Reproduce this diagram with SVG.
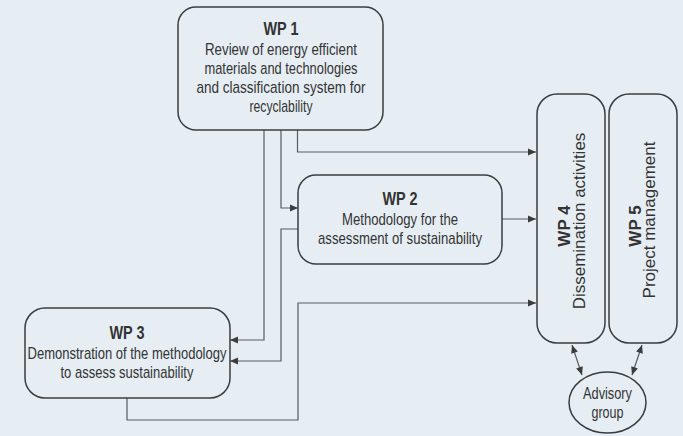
<svg xmlns="http://www.w3.org/2000/svg" width="683" height="436" viewBox="0 0 683 436">
<style>
.box{fill:#e6eef3;stroke:#3c3c3c;stroke-width:1.5}
.con{fill:none;stroke:#5a5a5a;stroke-width:1.2}
.t{font-family:"Liberation Sans",Arial,sans-serif;font-size:17px;fill:#333;text-anchor:middle}
.b{font-family:"Liberation Sans",Arial,sans-serif;font-size:18px;font-weight:bold;fill:#333;text-anchor:middle}
.rt{font-family:"Liberation Sans",Arial,sans-serif;font-size:17px;fill:#333;text-anchor:middle}
.rb{font-family:"Liberation Sans",Arial,sans-serif;font-size:17px;font-weight:bold;fill:#333;text-anchor:middle}
</style>
<defs>
<marker id="ah" markerUnits="userSpaceOnUse" markerWidth="10" markerHeight="10" viewBox="0 0 10 10" refX="9" refY="5" orient="auto">
<path d="M1,1.5 L9,5 L1,8.5 Z" fill="#3c3c3c"/>
</marker>
<marker id="ahs" markerUnits="userSpaceOnUse" markerWidth="10" markerHeight="10" viewBox="0 0 10 10" refX="1" refY="5" orient="auto">
<path d="M9,1.5 L1,5 L9,8.5 Z" fill="#3c3c3c"/>
</marker>
</defs>
<rect width="683" height="436" fill="#e6eef3"/>
<g id="connectors">
<path class="con" d="M297.5,130 V152 H536" marker-end="url(#ah)"/>
<path class="con" d="M281,130 V208 H298" marker-end="url(#ah)"/>
<path class="con" d="M264,130 V340 H230" marker-end="url(#ah)"/>
<path class="con" d="M298,229 H281 V361 H230" marker-end="url(#ah)"/>
<path class="con" d="M502,219 H536" marker-end="url(#ah)"/>
<path class="con" d="M127,398 V420 H298 V303 H536" marker-end="url(#ah)"/>
<path class="con" d="M572,345 L582,375" marker-start="url(#ahs)" marker-end="url(#ah)"/>
<path class="con" d="M642,345 L632,375" marker-start="url(#ahs)" marker-end="url(#ah)"/>
</g>
<g id="wp1">
<rect class="box" x="178" y="7" width="205" height="123" rx="18"/>
<text class="b" x="281" y="35" textLength="35" lengthAdjust="spacingAndGlyphs">WP 1</text>
<text class="t" x="281" y="55" textLength="152" lengthAdjust="spacingAndGlyphs">Review of energy efficient</text>
<text class="t" x="281" y="74" textLength="153" lengthAdjust="spacingAndGlyphs">materials and technologies</text>
<text class="t" x="281" y="93" textLength="169" lengthAdjust="spacingAndGlyphs">and classification system for</text>
<text class="t" x="281" y="112" textLength="63" lengthAdjust="spacingAndGlyphs">recyclability</text>
</g>
<g id="wp2">
<rect class="box" x="298" y="175" width="204" height="89" rx="18"/>
<text class="b" x="400" y="205" textLength="35" lengthAdjust="spacingAndGlyphs">WP 2</text>
<text class="t" x="400" y="225" textLength="116" lengthAdjust="spacingAndGlyphs">Methodology for the</text>
<text class="t" x="400" y="244" textLength="164" lengthAdjust="spacingAndGlyphs">assessment of sustainability</text>
</g>
<g id="wp3">
<rect class="box" x="25" y="308" width="205" height="90" rx="20"/>
<text class="b" x="127" y="339" textLength="35" lengthAdjust="spacingAndGlyphs">WP 3</text>
<text class="t" x="127" y="359" textLength="199" lengthAdjust="spacingAndGlyphs">Demonstration of the methodology</text>
<text class="t" x="127" y="378" textLength="133" lengthAdjust="spacingAndGlyphs">to assess sustainability</text>
</g>
<g id="wp4">
<rect class="box" x="537" y="94" width="68" height="249" rx="20"/>
<text class="rb" transform="translate(570,226) rotate(-90)">WP 4</text>
<text class="rt" transform="translate(585,221) rotate(-90)">Dissemination activities</text>
</g>
<g id="wp5">
<rect class="box" x="609" y="94" width="68" height="249" rx="20"/>
<text class="rb" transform="translate(641,226) rotate(-90)">WP 5</text>
<text class="rt" transform="translate(655,220) rotate(-90)">Project management</text>
</g>
<g id="advisory">
<ellipse class="box" cx="607.5" cy="402.5" rx="38.5" ry="30.5"/>
<text class="t" x="607.5" y="399" textLength="49" lengthAdjust="spacingAndGlyphs">Advisory</text>
<text class="t" x="607.5" y="418" textLength="32" lengthAdjust="spacingAndGlyphs">group</text>
</g>
</svg>
